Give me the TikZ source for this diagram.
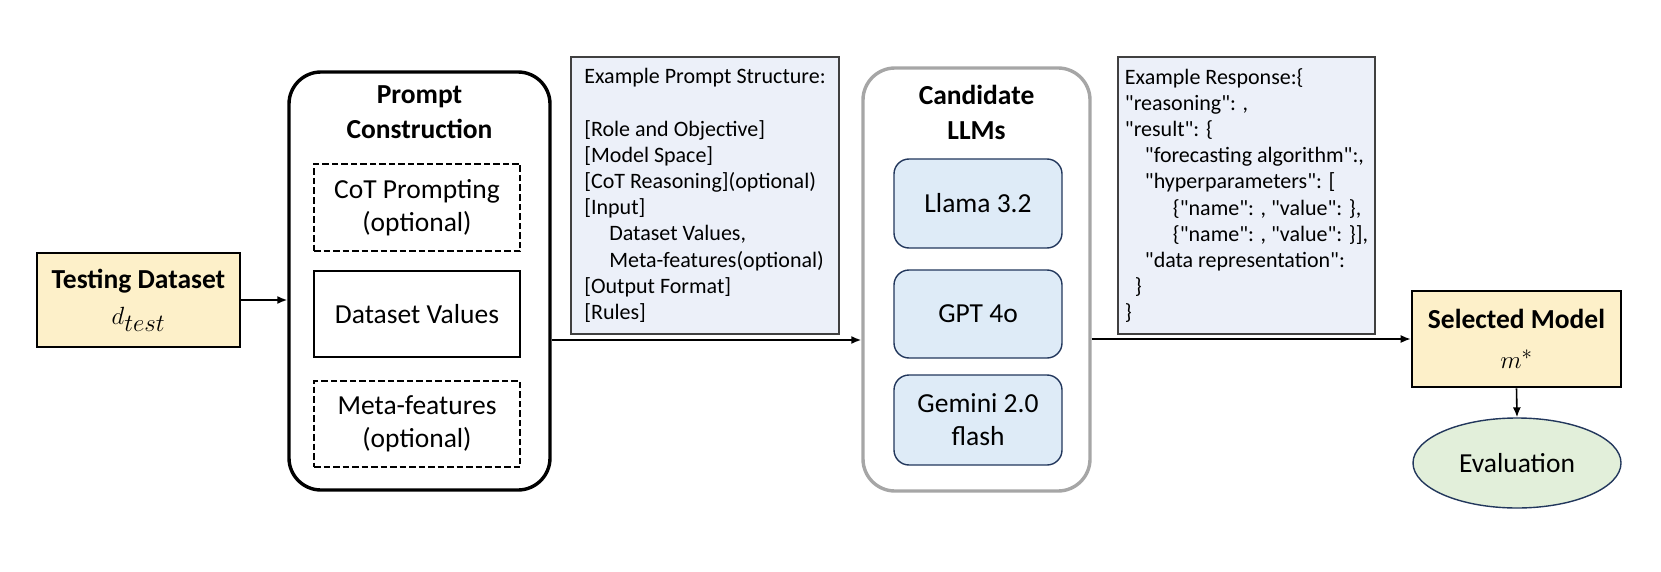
\documentclass[tikz,border=0pt]{standalone}
\usepackage{fontspec}
\setmainfont{Carlito}[Ligatures=TeXOff]
\usepackage{amsmath}
\usetikzlibrary{arrows.meta,shapes.geometric}

\definecolor{dsyellow}{HTML}{FDF0C9}
\definecolor{txtblue}{HTML}{ECF0F9}
\definecolor{txtedge}{HTML}{404040}
\definecolor{llmblue}{HTML}{DEEBF7}
\definecolor{llmedge}{HTML}{22375C}
\definecolor{candgrey}{HTML}{A6A6A6}
\definecolor{evalgreen}{HTML}{E2EFDA}

\begin{document}
\begin{tikzpicture}[x=1pt,y=-1pt,
    every node/.style={font=\fontsize{27.5}{33}\selectfont, align=center, inner sep=0pt},
    yellowbox/.style={draw=black, line width=2.6pt, fill=dsyellow},
    outerbox/.style={draw=black, line width=3.4pt, rounded corners=32pt},
    llmframe/.style={draw=candgrey, line width=3.4pt, rounded corners=32pt},
    inbox/.style={draw=black, line width=2.6pt},
    optbox/.style={inbox, dash pattern=on 6.5pt off 3pt},
    textbox/.style={draw=txtedge, line width=1.5pt, fill=txtblue, align=left,
        font=\fontsize{22}{26.2}\selectfont},
    llmbox/.style={draw=llmedge, line width=1.4pt, fill=llmblue, rounded corners=15pt},
    boxtitle/.style={font=\fontsize{27.5}{35}\selectfont\bfseries},
    arr/.style={line width=1.6pt, -{Latex[length=10pt,width=8pt]}}]

    \useasboundingbox (0,0) rectangle (1661,572);

    % input data
    \node[yellowbox, minimum width=203pt, minimum height=94pt] (test) at (138.5,300)
        {\textbf{Testing Dataset}\\[3pt]{\fontsize{34}{34}\selectfont$d_{test}$}};

    % prompt construction
    \node[outerbox, minimum width=261pt, minimum height=418pt] (pc) at (419.5,281) {};
    \node[boxtitle] (pctitle) at (419.5,112) {Prompt\\Construction};
    \node[optbox, minimum width=206pt, minimum height=87pt] (cot) at (417,207.5) {CoT Prompting\\(optional)};
    \node[inbox, minimum width=206pt, minimum height=86pt] (dsv) at (417,314) {Dataset Values};
    \node[optbox, minimum width=206pt, minimum height=86pt] (meta) at (417,424) {Meta-features\\(optional)};

    \node[textbox, minimum width=268pt, minimum height=277pt] (eps) at (705,195.5)
        {Example Prompt Structure:\\
         \mbox{}\\
         {[}Role and Objective]\\
         {[}Model Space]\\
         {[}CoT Reasoning](optional)\\
         {[}Input]\\
         \hspace*{25pt}Dataset Values,\\
         \hspace*{25pt}Meta-features(optional)\\
         {[}Output Format]\\
         {[}Rules]};

    % candidate LLMs
    \node[llmframe, minimum width=227pt, minimum height=423pt] (llm) at (976.5,279.5) {};
    \node[boxtitle] (llmtitle) at (976.5,112) {Candidate\\LLMs};
    \node[llmbox, minimum width=168pt, minimum height=89pt] (llama) at (978,203.5) {Llama 3.2};
    \node[llmbox, minimum width=168pt, minimum height=88pt] (gpt) at (978,314) {GPT 4o};
    \node[llmbox, minimum width=168pt, minimum height=90pt] (gemini) at (978,420) {Gemini 2.0\\flash};

    \node[textbox, minimum width=257pt, minimum height=277pt] (resp) at (1246.5,195.5)
        {Example Response:\{\\
         "reasoning": ,\\
         "result": \{\\
         \hspace*{20pt}"forecasting algorithm":,\\
         \hspace*{20pt}"hyperparameters": [\\
         \hspace*{48pt}\{"name": , "value": \},\\
         \hspace*{48pt}\{"name": , "value": \}],\\
         \hspace*{20pt}"data representation":\\
         \hspace*{10pt}\}\\
         \}};

    % output
    \node[yellowbox, minimum width=209pt, minimum height=96pt] (sel) at (1516.5,339)
        {\textbf{Selected Model}\\[7pt]{\fontsize{32}{32}\selectfont$m^{*}$}};
    \node[ellipse, draw=llmedge, line width=1.4pt, fill=evalgreen, minimum width=208pt, minimum height=90pt] (eval) at (1517,463) {Evaluation};

    \coordinate (lvl) at (0,340);
    \draw[arr] (test.east) -- (test.east -| pc.west);
    \draw[arr] (pc.east |- lvl) -- (llm.west |- lvl);
    \draw[arr] (llm.east |- sel.west) -- (sel.west);
    \draw[arr] (sel.south) -- (eval.north);
\end{tikzpicture}
\end{document}
